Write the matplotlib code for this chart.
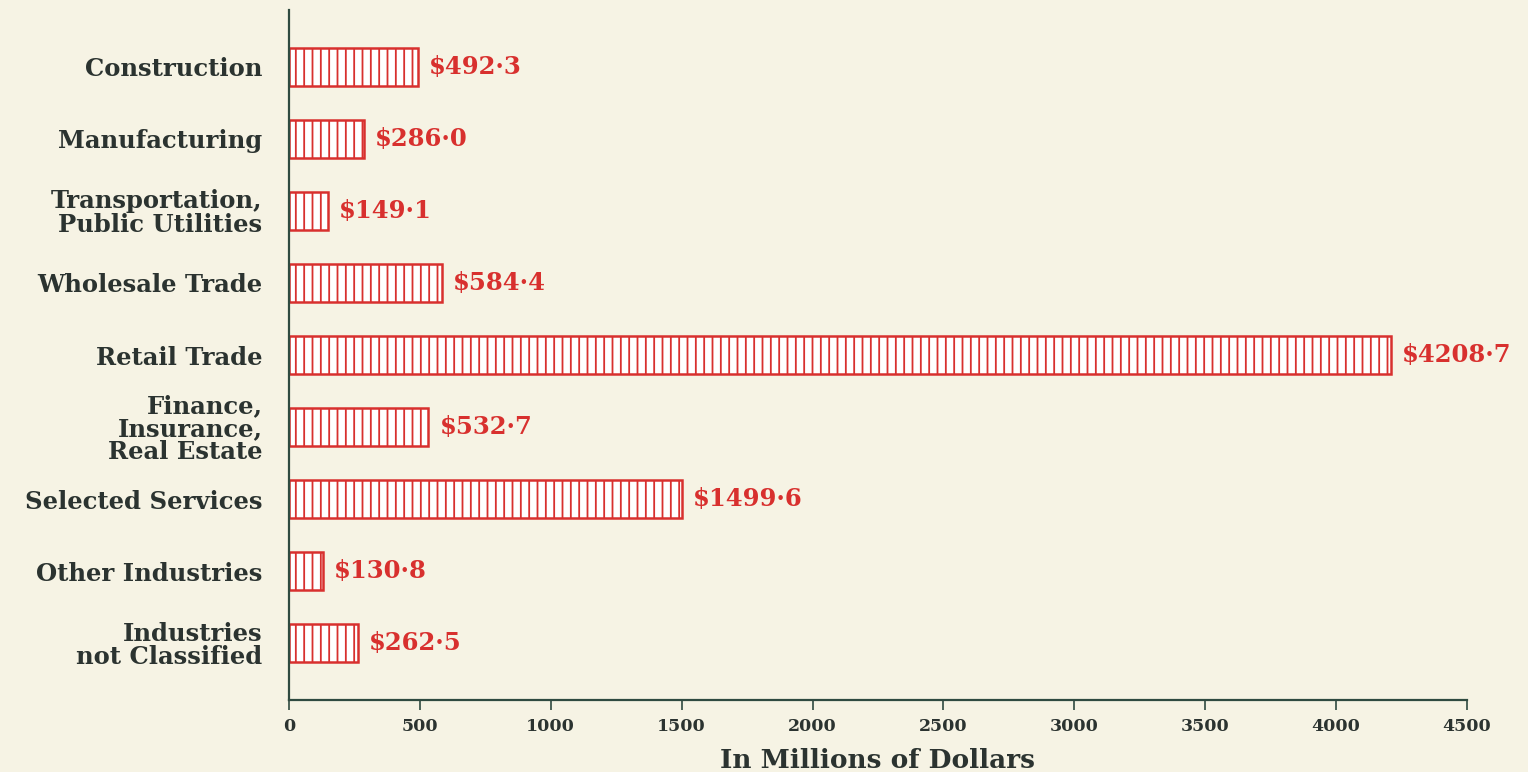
import matplotlib.pyplot as plt

# Industry totals, in millions of dollars
industries = ['Construction', 'Manufacturing', 'Transportation,\nPublic Utilities',
              'Wholesale Trade', 'Retail Trade', 'Finance,\nInsurance,\nReal Estate',
              'Selected Services', 'Other Industries', 'Industries\nnot Classified']
amounts = [492.3, 286.0, 149.1, 584.4, 4208.7, 532.7, 1499.6, 130.8, 262.5]
value_labels = ['$492·3', '$286·0', '$149·1', '$584·4', '$4208·7',
                '$532·7', '$1499·6', '$130·8', '$262·5']
xticks = [0, 500, 1000, 1500, 2000, 2500, 3000, 3500, 4000, 4500]

bg = '#f6f3e4'
red = '#d8302e'
ink = '#2b3330'
axis_col = '#2f4a40'

plt.rcParams['hatch.linewidth'] = 1.3
plt.rcParams['hatch.color'] = red
plt.rcParams['font.family'] = ['DejaVu Serif']

fig = plt.figure(figsize=(15.28, 7.72), dpi=100, facecolor=bg)
ax = fig.add_axes([0.1891, 0.0933, 0.771, 0.8937])
ax.set_facecolor(bg)

ypos = list(range(len(industries)))
ax.barh(ypos, amounts, height=0.53, color='white', edgecolor=red,
        linewidth=1.8, hatch='||')

for y, v, lab in zip(ypos, amounts, value_labels):
    ax.text(v + 42, y, lab, va='center', ha='left', color=red,
            fontsize=17.5, fontweight='bold')

ax.set_yticks(ypos)
ax.set_yticklabels(industries, fontsize=17.5, fontweight='bold', color=ink,
                   linespacing=0.95)
ax.tick_params(axis='y', length=0, pad=19)
ax.set_ylim(8.79, -0.79)

ax.set_xlim(0, 4500)
ax.set_xticks(xticks)
ax.set_xticklabels([str(t) for t in xticks], fontsize=12.5, fontweight='bold',
                   color=ink)
ax.tick_params(axis='x', direction='out', length=7, width=1.2, color=axis_col, pad=6)
ax.set_xlabel('In Millions of Dollars', fontsize=19, fontweight='bold',
              color=ink, labelpad=9)

for s in ['top', 'right']:
    ax.spines[s].set_visible(False)
for s in ['left', 'bottom']:
    ax.spines[s].set_color(axis_col)
    ax.spines[s].set_linewidth(1.6)

fig.savefig('out.png', dpi=100, facecolor=bg)
